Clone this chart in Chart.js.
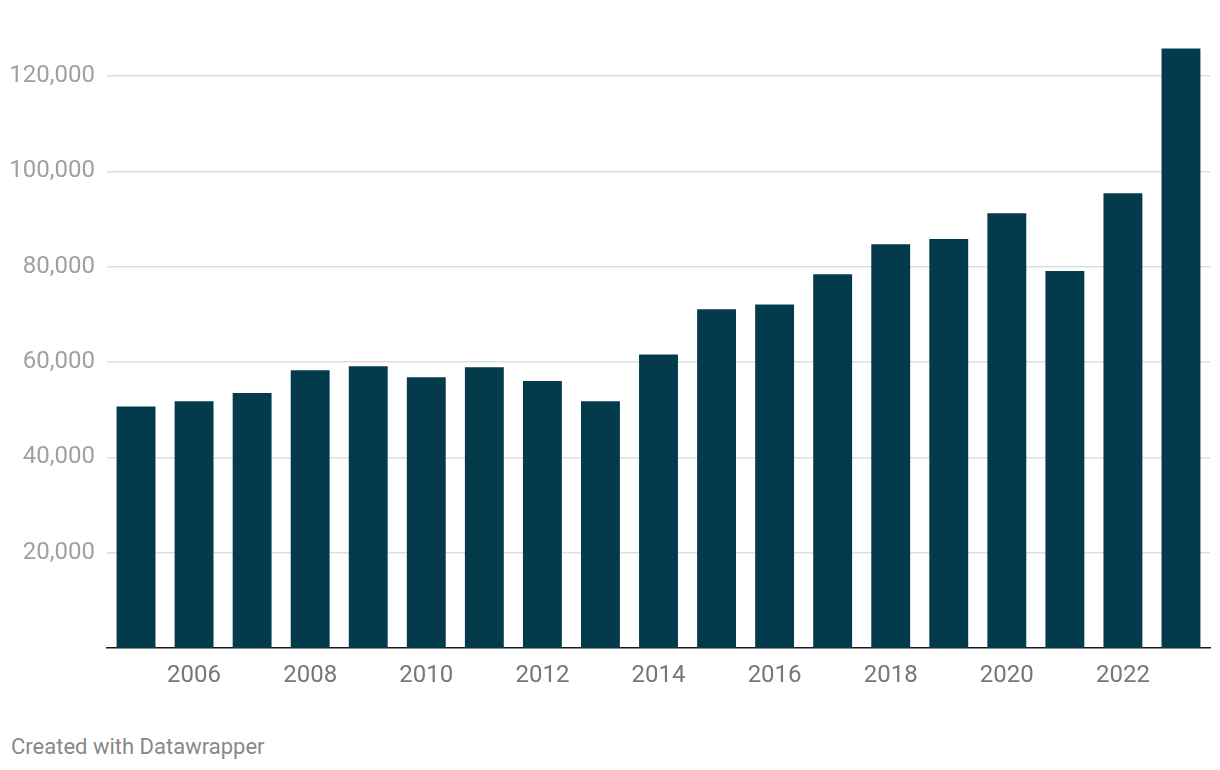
<!DOCTYPE html>
<html>
<head>
<meta charset="utf-8">
<script src="https://cdn.jsdelivr.net/npm/chart.js@4"></script>
<style>
  body { margin: 0; background: #fff; }
  #wrap { position: absolute; left: 0; top: 0; width: 1220px; height: 700px; }
  #credit {
    position: absolute; left: 11px; top: 734px;
    font-family: Roboto, sans-serif; font-size: 22px; color: #888;
  }
</style>
</head>
<body>
<div id="wrap"><canvas id="myChart"></canvas></div>
<div id="credit">Created with Datawrapper</div>
<script>
// years on the x axis
const years = ['2005', '2006', '2007', '2008', '2009', '2010', '2011', '2012', '2013', '2014',
    '2015', '2016', '2017', '2018', '2019', '2020', '2021', '2022', '2023'];
// values
const values = [50700, 51800, 53500, 58300, 59100, 56800, 58900, 56000, 51800, 61600,
    71100, 72100, 78400, 84700, 85800, 91200, 79100, 95400, 125800];
// y tick values shown
const yTicks = [20000, 40000, 60000, 80000, 100000, 120000];

const barColor = '#033b4c';

const data = {
    labels: years,
    datasets: [{
        data: values,
        backgroundColor: barColor,
        barPercentage: 1,
        categoryPercentage: 0.67
    }]
};

const config = {
    type: 'bar',
    data: data,
    options: {
        responsive: true,
        maintainAspectRatio: false,
        animation: false,
        layout: { padding: { top: 48, right: 10, left: 0, bottom: 0 } },
        plugins: { legend: { display: false }, tooltip: { enabled: false } },
        scales: {
            x: {
                grid: { display: false, drawTicks: false },
                border: { display: true, color: '#1a1a1a', width: 1.5 },
                ticks: {
                    autoSkip: false,
                    maxRotation: 0,
                    padding: 14,
                    color: '#777',
                    font: { family: 'Roboto', size: 24 },
                    callback: function (val, i) {
                        const y = years[i];
                        return Number(y) % 2 === 0 ? y : '';
                    }
                },
                afterFit: (scale) => { scale.height = 52; }
            },
            y: {
                min: 0,
                max: 125900,
                grid: { color: '#dedede', lineWidth: 1.5, drawTicks: false },
                border: { display: false },
                ticks: {
                    padding: 12,
                    color: '#a0a0a0',
                    font: { family: 'Roboto', size: 24 },
                    callback: (v) => v.toLocaleString('en-US')
                },
                afterBuildTicks: (axis) => {
                    axis.ticks = yTicks.map(v => ({ value: v }));
                },
                afterFit: (scale) => { scale.width = 107; }
            }
        }
    }
};

const myChart = new Chart(document.getElementById('myChart'), config);
</script>
</body>
</html>
